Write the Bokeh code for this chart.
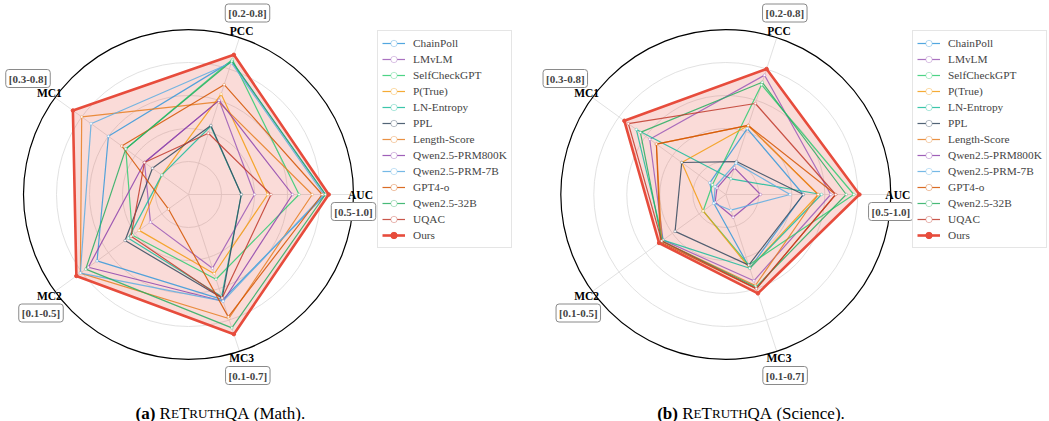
import numpy as np
from bokeh.plotting import figure
from bokeh.models import Range1d, Legend, LegendItem, Label
from bokeh.core.properties import value
from bokeh.embed import file_html
from bokeh.resources import INLINE

# ---------------- data ----------------
axis_names = ["AUC", "PCC", "MC1", "MC2", "MC3"]
axis_lo = [0.5, 0.2, 0.3, 0.1, 0.1]
axis_hi = [1.0, 0.8, 0.8, 0.5, 0.7]
range_texts = ["[0.5-1.0]", "[0.2-0.8]", "[0.3-0.8]", "[0.1-0.5]", "[0.1-0.7]"]

methods = ["ChainPoll", "LMvLM", "SelfCheckGPT", "P(True)", "LN-Entropy", "PPL",
           "Length-Score", "Qwen2.5-PRM800K", "Qwen2.5-PRM-7B", "GPT4-o",
           "Qwen2.5-32B", "UQAC", "Ours"]
colors = ["#3498db", "#9b59b6", "#2ecc71", "#f39c12", "#1abc9c", "#34495e",
          "#e67e22", "#8e44ad", "#5dade2", "#d35400", "#27ae60", "#c0392b", "#e74c3c"]

# ReTruthQA (Math)
math_auc = [0.915, 0.700, 0.835, 0.740, 0.660, 0.660, 0.875, 0.815, 0.910, 0.905, 0.915, 0.750, 0.925]
math_pcc = [0.710, 0.560, 0.716, 0.584, 0.461, 0.464, 0.554, 0.560, 0.704, 0.620, 0.710, 0.434, 0.734]
math_mc1 = [0.600, 0.465, 0.535, 0.400, 0.400, 0.435, 0.700, 0.465, 0.665, 0.550, 0.535, 0.465, 0.733]
math_mc2 = [0.374, 0.214, 0.268, 0.248, 0.280, 0.290, 0.424, 0.400, 0.424, 0.160, 0.408, 0.272, 0.436]
math_mc3 = [0.502, 0.382, 0.424, 0.403, 0.490, 0.496, 0.574, 0.508, 0.508, 0.568, 0.610, 0.496, 0.634]

# ReTruthQA (Science)
sci_auc = [0.735, 0.818, 0.888, 0.780, 0.790, 0.735, 0.780, 0.605, 0.695, 0.833, 0.865, 0.833, 0.905]
sci_pcc = [0.452, 0.656, 0.620, 0.464, 0.260, 0.326, 0.464, 0.302, 0.320, 0.464, 0.629, 0.548, 0.680]
sci_mc1 = [0.360, 0.585, 0.350, 0.465, 0.635, 0.465, 0.560, 0.333, 0.340, 0.560, 0.620, 0.665, 0.680]
sci_mc2 = [0.136, 0.288, 0.168, 0.168, 0.288, 0.252, 0.292, 0.132, 0.136, 0.296, 0.292, 0.292, 0.300]
sci_mc3 = [0.382, 0.430, 0.370, 0.382, 0.382, 0.370, 0.448, 0.187, 0.160, 0.460, 0.454, 0.460, 0.478]

dataset_name = "ReTruthQA"
subset_names = ["Math", "Science"]
subfig_tags = ["(a)", "(b)"]

# ---------------- figure ----------------
W, H = 1049, 421
p = figure(width=W, height=H, x_range=Range1d(0, W), y_range=Range1d(0, H),
           x_axis_type=None, y_axis_type=None, toolbar_location=None,
           output_backend="svg", min_border=0, outline_line_color=None)
p.grid.visible = False
p.background_fill_color = "white"

R = 165.0
angles = np.deg2rad([0, 72, 144, 216, 288])
SERIF = value("Liberation Serif")

# offsets of range boxes from centre (px)
box_off = [(165, -17), (59, 181.5), (-160.5, 116), (-147.5, -118.5), (59.3, -181)]


def draw_panel(cx, cy, metric_lists, legend_x):
    # grid
    for g in [0.2, 0.4, 0.6, 0.8]:
        p.circle(x=[cx], y=[cy], radius=g * R, fill_color=None,
                 line_color="#dedede", line_width=0.9)
    p.segment(x0=[cx] * 5, y0=[cy] * 5,
              x1=list(cx + R * np.cos(angles)), y1=list(cy + R * np.sin(angles)),
              line_color="#dedede", line_width=0.9)
    p.circle(x=[cx], y=[cy], radius=R, fill_color=None,
             line_color="black", line_width=1.2)

    vals = np.array(metric_lists).T  # methods x axes
    lo = np.array(axis_lo)
    hi = np.array(axis_hi)
    norm = np.clip((vals - lo) / (hi - lo), 0, 1)

    def coords(i):
        r = norm[i] * R
        xs = list(cx + r * np.cos(angles))
        ys = list(cy + r * np.sin(angles))
        return xs, ys

    n = len(methods)
    # fill of ours
    xs, ys = coords(n - 1)
    p.patch(xs, ys, fill_color=colors[-1], fill_alpha=0.2, line_color=None)

    items = []
    for i in range(n):
        xs, ys = coords(i)
        if methods[i] == "Ours":
            lr = p.line(xs + xs[:1], ys + ys[:1], line_color=colors[i], line_width=2.6)
            sr = p.scatter(xs, ys, size=3.5, marker="circle", fill_color=colors[i],
                           line_color=colors[i])
        else:
            lr = p.line(xs + xs[:1], ys + ys[:1], line_color=colors[i],
                        line_width=1.2, line_alpha=0.85)
            sr = p.scatter(xs, ys, size=2.6, marker="circle", fill_color="white",
                           line_color=colors[i], line_width=0.6, line_alpha=0.6)
        items.append(LegendItem(label=methods[i], renderers=[lr, sr]))

    # axis names
    lr_ = 172.0
    p.text(x=list(cx + lr_ * np.cos(angles)), y=list(cy + lr_ * np.sin(angles)),
           text=axis_names, text_font=SERIF, text_font_style="bold",
           text_font_size="11.5px", text_align="center", text_baseline="middle",
           text_color="black")
    # range boxes
    for k in range(5):
        dx, dy = box_off[k]
        p.add_layout(Label(x=cx + dx, y=cy + dy, text=range_texts[k],
                           text_font="Liberation Serif", text_font_style="bold",
                           text_font_size="11px", text_align="center",
                           text_baseline="middle", background_fill_color="white",
                           border_line_color="#8a8a8a", border_line_width=1,
                           padding=3, border_radius=3))

    leg = Legend(items=items, location=(legend_x, 173),
                 label_text_font="Liberation Serif", label_text_font_size="11.3px",
                 glyph_width=23, glyph_height=16, label_height=16, spacing=0,
                 padding=4, margin=0, label_standoff=8,
                 background_fill_color="white", background_fill_alpha=0.85,
                 border_line_color="#cccccc", border_line_width=1)
    p.add_layout(leg)


draw_panel(188.0, 227.0, [math_auc, math_pcc, math_mc1, math_mc2, math_mc3], 377)
draw_panel(725.3, 227.0, [sci_auc, sci_pcc, sci_mc1, sci_mc2, sci_mc3], 912)

# ---------------- captions (small caps via pieces) ----------------
TW = {' ': 250, '(': 333, ')': 333, '.': 250, 'A': 722, 'E': 611, 'H': 722, 'Q': 722,
      'R': 667, 'T': 611, 'U': 722, 'M': 889, 'S': 556, 'a': 444, 't': 278, 'h': 500,
      'c': 444, 'i': 278, 'e': 444, 'n': 500}
TWB = {'(': 333, ')': 333, 'a': 500, 'b': 556}
FS = 17.0
SC = 0.77


def width(s, size, bold=False):
    tab = TWB if bold else TW
    return sum(tab.get(ch, 500) for ch in s) * size / 1000.0


def caption(x0, y0, tag, subset):
    pieces = [(tag, FS, True), (" ", FS, False)]
    cur = ""
    cur_small = None
    for ch in dataset_name:
        small = ch.islower()
        if cur and small != cur_small:
            pieces.append((cur, FS * SC if cur_small else FS, False))
            cur = ""
        cur += ch.upper()
        cur_small = small
    pieces.append((cur, FS * SC if cur_small else FS, False))
    pieces.append((" ", FS, False))
    pieces.append(("(" + subset + ").", FS, False))
    x = x0
    for txt, size, bold in pieces:
        if txt.strip():
            p.text(x=[x], y=[y0], text=[txt], text_font=SERIF,
                   text_font_style="bold" if bold else "normal",
                   text_font_size=f"{size:.1f}px", text_align="left",
                   text_baseline="alphabetic", text_color="black")
        x += width(txt, size, bold)


caption(135.0, 8.5, subfig_tags[0], subset_names[0])
caption(656.7, 8.5, subfig_tags[1], subset_names[1])

open("out.html", "w").write(file_html(p, INLINE))
